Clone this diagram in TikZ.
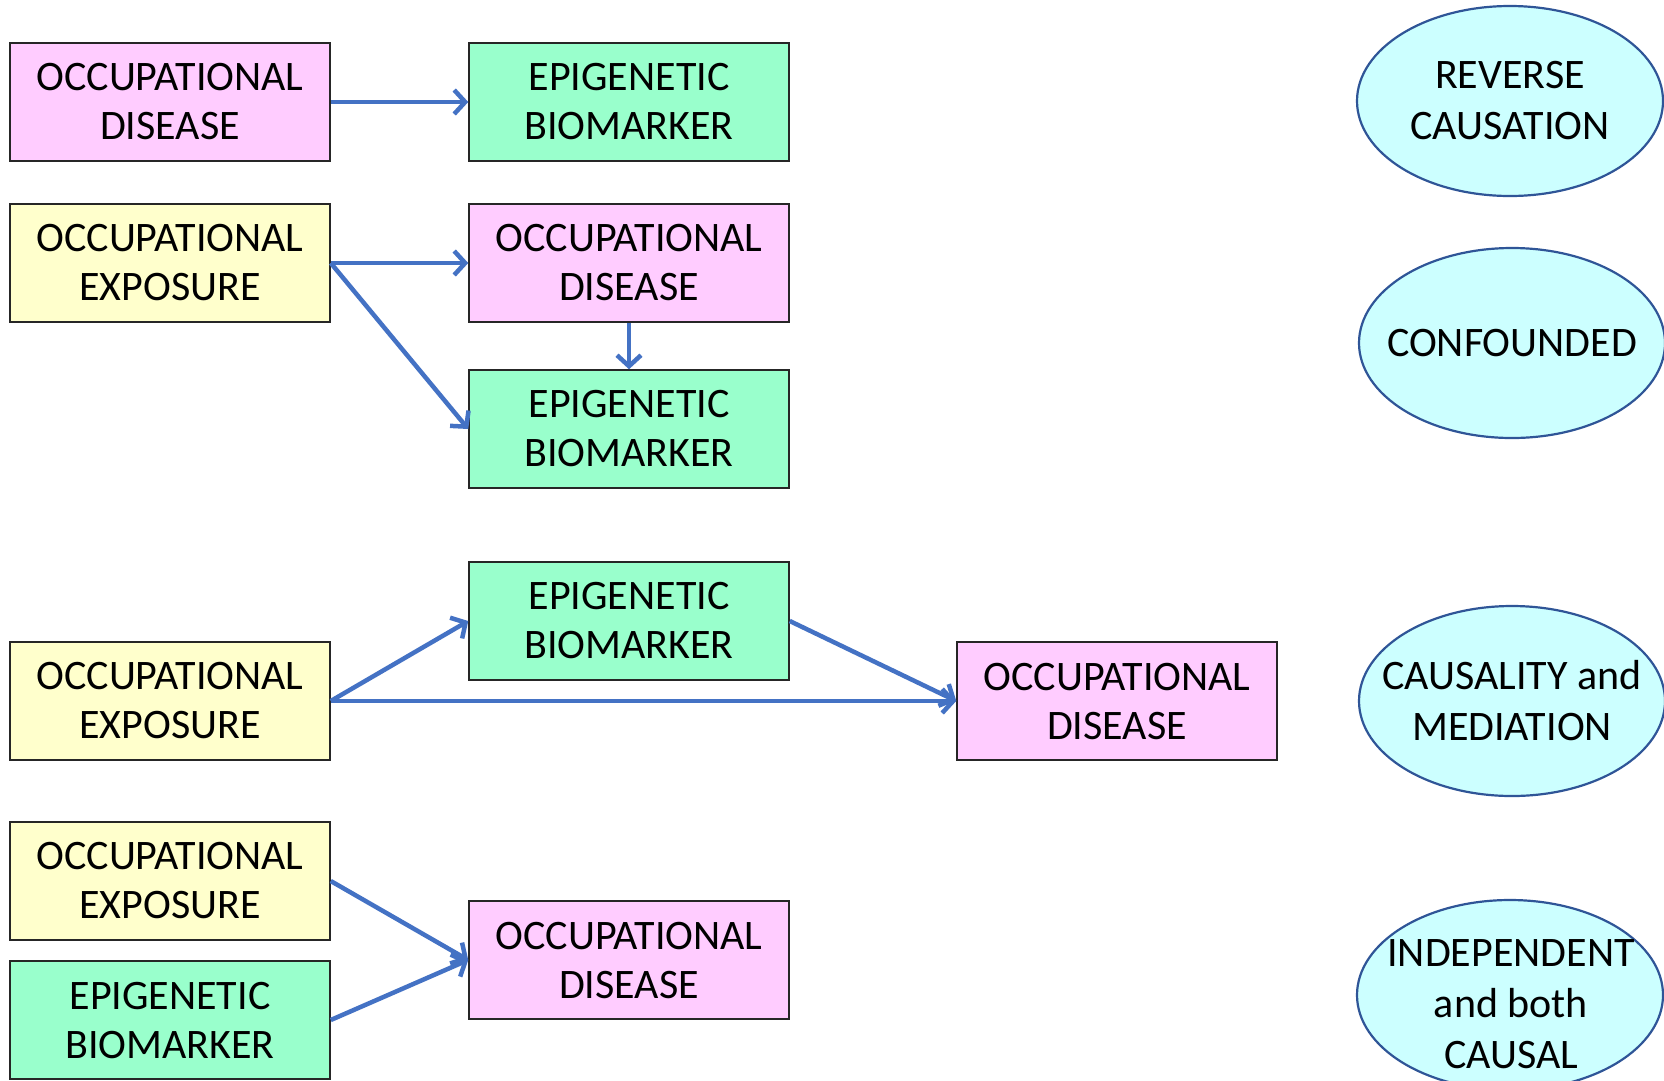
\documentclass[tikz,border=0pt]{standalone}
\usepackage{fontspec}
\setmainfont{Carlito}
\usetikzlibrary{arrows.meta,shapes.geometric}
\definecolor{pinkfill}{HTML}{FFCCFF}
\definecolor{greenfill}{HTML}{99FFCC}
\definecolor{yellowfill}{HTML}{FFFFCC}
\definecolor{cyanfill}{HTML}{CCFFFF}
\definecolor{ovalline}{HTML}{2F5597}
\definecolor{arrowblue}{HTML}{4472C4}
\tikzset{
  box/.style={draw=black!85, line width=1.5pt, minimum width=320pt, minimum height=118pt,
    inner sep=0pt, align=center, font=\fontsize{42}{49}\selectfont},
  disease/.style={box, fill=pinkfill},
  marker/.style={box, fill=greenfill},
  exposure/.style={box, fill=yellowfill},
  oval/.style={ellipse, draw=ovalline, line width=2.2pt, fill=cyanfill,
    minimum width=306pt, minimum height=190pt, inner sep=0pt},
  ovaltext/.style={align=center, inner sep=0pt, font=\fontsize{42}{51}\selectfont},
  link/.style={draw=arrowblue, line width=4.5pt,
    -{Straight Barb[length=11pt,width=24pt,line width=4.5pt]}}
}
\begin{document}
\begin{tikzpicture}[x=1pt,y=-1pt]
\useasboundingbox (0,0) rectangle (1664,1080);
\clip (0,0) rectangle (1664,1080);

% reverse causation
\node[disease] (d1) at (170,102) {OCCUPATIONAL\\DISEASE};
\node[marker]  (m1) at (629,102) {EPIGENETIC\\BIOMARKER};

% confounded
\node[exposure] (x2) at (170,263) {OCCUPATIONAL\\EXPOSURE};
\node[disease]  (d2) at (629,263) {OCCUPATIONAL\\DISEASE};
\node[marker]   (m2) at (629,429) {EPIGENETIC\\BIOMARKER};

% causality and mediation
\node[marker]   (m3) at (629,621) {EPIGENETIC\\BIOMARKER};
\node[exposure] (x3) at (170,701) {OCCUPATIONAL\\EXPOSURE};
\node[disease]  (d3) at (1117,701) {OCCUPATIONAL\\DISEASE};

% independent and both causal
\node[exposure] (x4) at (170,881) {OCCUPATIONAL\\EXPOSURE};
\node[marker]   (m4) at (170,1020) {EPIGENETIC\\BIOMARKER};
\node[disease]  (d4) at (629,960) {OCCUPATIONAL\\DISEASE};

% connectors
\draw[link] (d1.east) -- (m1.west);
\draw[link] (x2.east) -- (d2.west);
\draw[link] (x2.east) -- (m2.west);
\draw[link] (d2.south) -- (m2.north);
\draw[link] (x3.east) -- (m3.west);
\draw[link] (m3.east) -- (d3.west);
\draw[link] (x3.east) -- (d3.west);
\draw[link] (x4.east) -- (d4.west);
\draw[link] (m4.east) -- (d4.west);

% labels
\node[oval] (e1) at (1510,101) {};
\node[ovaltext] (t1) at (e1) {REVERSE\\CAUSATION};
\node[oval] (e2) at (1512,343) {};
\node[ovaltext] (t2) at (e2) {CONFOUNDED};
\node[oval] (e3) at (1512,701) {};
\node[ovaltext] (t3) at (e3) {CAUSALITY and\\MEDIATION};
\node[oval] (e4) at (1510,995) {};
\node[ovaltext] (t4) at (1511,1004) {INDEPENDENT\\and both\\CAUSAL};
\end{tikzpicture}
\end{document}
